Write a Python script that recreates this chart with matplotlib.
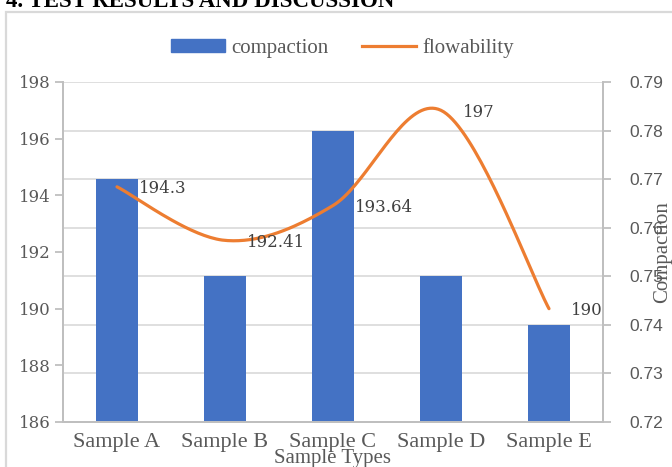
import matplotlib.pyplot as plt
import numpy as np
from matplotlib.patches import Rectangle
from matplotlib.lines import Line2D

# sample data
samples = ["Sample A", "Sample B", "Sample C", "Sample D", "Sample E"]
compaction = [0.77, 0.75, 0.78, 0.75, 0.74]
flowability = [194.3, 192.41, 193.64, 197, 190]
flow_labels = ["194.3", "192.41", "193.64", "197", "190"]
left_ticks = [186, 188, 190, 192, 194, 196, 198]
right_ticks = [0.72, 0.73, 0.74, 0.75, 0.76, 0.77, 0.78, 0.79]

blue = "#4472C4"
orange = "#ED7D31"
gray_txt = "#595959"
grid_col = "#d9d9d9"
spine_col = "#bfbfbf"


def smooth(x, y, n=40):
    # catmull-rom style bezier, like a spreadsheet "smoothed line"
    x = np.asarray(x, float)
    y = np.asarray(y, float)
    pts = np.column_stack([x, y])
    out = []
    for i in range(len(pts) - 1):
        p0 = pts[i - 1] if i > 0 else pts[i]
        p1 = pts[i]
        p2 = pts[i + 1]
        p3 = pts[i + 2] if i + 2 < len(pts) else pts[i + 1]
        c1 = p1 + (p2 - p0) / 6
        c2 = p2 - (p3 - p1) / 6
        t = np.linspace(0, 1, n)[:, None]
        seg = ((1 - t) ** 3) * p1 + 3 * ((1 - t) ** 2) * t * c1 + 3 * (1 - t) * t ** 2 * c2 + t ** 3 * p2
        out.append(seg if i == 0 else seg[1:])
    out = np.vstack(out)
    return out[:, 0], out[:, 1]


fig = plt.figure(figsize=(6.72, 4.67), dpi=100)
W, H = 672, 467

# chart frame and the heading above it
fig.patches.append(Rectangle((6 / W, -0.1), 1.0, 1 - 12 / H + 0.1, transform=fig.transFigure,
                             fill=False, edgecolor="#d9d9d9", lw=1.6))
fig.text(6 / W, 1 - 7 / H, "4. TEST RESULTS AND DISCUSSION", fontsize=16.5, fontweight="bold",
         family="Liberation Serif", va="baseline", ha="left", color="black")

ax1 = fig.add_axes([63 / W, 1 - 422 / H, (603 - 63) / W, (422 - 82) / H])
ax2 = ax1.twinx()
ax1.set_zorder(ax2.get_zorder() + 1)
ax1.patch.set_visible(False)

x = np.arange(len(samples))

# compaction bars on the right axis
ax2.bar(x, compaction, width=0.39, color=blue, zorder=2)
ax2.set_ylim(0.72, 0.79)
ax2.set_yticks(right_ticks)
ax2.set_yticklabels(["%.2f" % v for v in right_ticks], family="Liberation Sans", fontsize=12.5, color=gray_txt)
ax2.yaxis.grid(True, color=grid_col, lw=1.2)
ax2.set_axisbelow(True)
ax2.set_ylabel("Compaction", family="Liberation Serif", fontsize=15, color=gray_txt, labelpad=-7.5)

# flowability smoothed line on the left axis
sx, sy = smooth(x, flowability)
ax1.plot(sx, sy, color=orange, lw=2.3, solid_capstyle="round", zorder=3)
for xi, yi, lab in zip(x, flowability, flow_labels):
    ax1.annotate(lab, (xi, yi), xytext=(15.5, -1.5), textcoords="offset points", va="center", ha="left",
                 family="DejaVu Serif", fontsize=12, color="#404040")
ax1.set_ylim(186, 198)
ax1.set_yticks(left_ticks)
ax1.set_yticklabels([str(v) for v in left_ticks], family="DejaVu Serif", fontsize=12, color=gray_txt)
ax1.set_xlim(-0.5, len(samples) - 0.5)
ax1.set_xticks(x)
ax1.set_xticklabels(samples, family="Liberation Serif", fontsize=16, color=gray_txt)
ax1.set_xlabel("Sample Types", family="Liberation Serif", fontsize=15, color=gray_txt, labelpad=-2.5)

for a in (ax1, ax2):
    a.spines["top"].set_visible(False)
    for s in ("left", "right", "bottom"):
        a.spines[s].set_color(spine_col)
        a.spines[s].set_linewidth(1.3)
    a.tick_params(axis="y", color=spine_col, length=6, width=1.3)
    a.tick_params(axis="x", length=0, pad=8)
ax1.tick_params(axis="y", pad=3)
ax2.tick_params(axis="y", pad=13)

handles = [Rectangle((0, 0), 1, 1, color=blue), Line2D([0], [0], color=orange, lw=2.3)]
fig.legend(handles, ["compaction", "flowability"], loc="center", bbox_to_anchor=(0.51, 1 - 48 / H), ncol=2,
           frameon=False, prop={"family": "Liberation Serif", "size": 15}, labelcolor=gray_txt,
           handlelength=2.6, handleheight=0.55, columnspacing=1.6, handletextpad=0.3)

fig.savefig("out.png", dpi=100)
